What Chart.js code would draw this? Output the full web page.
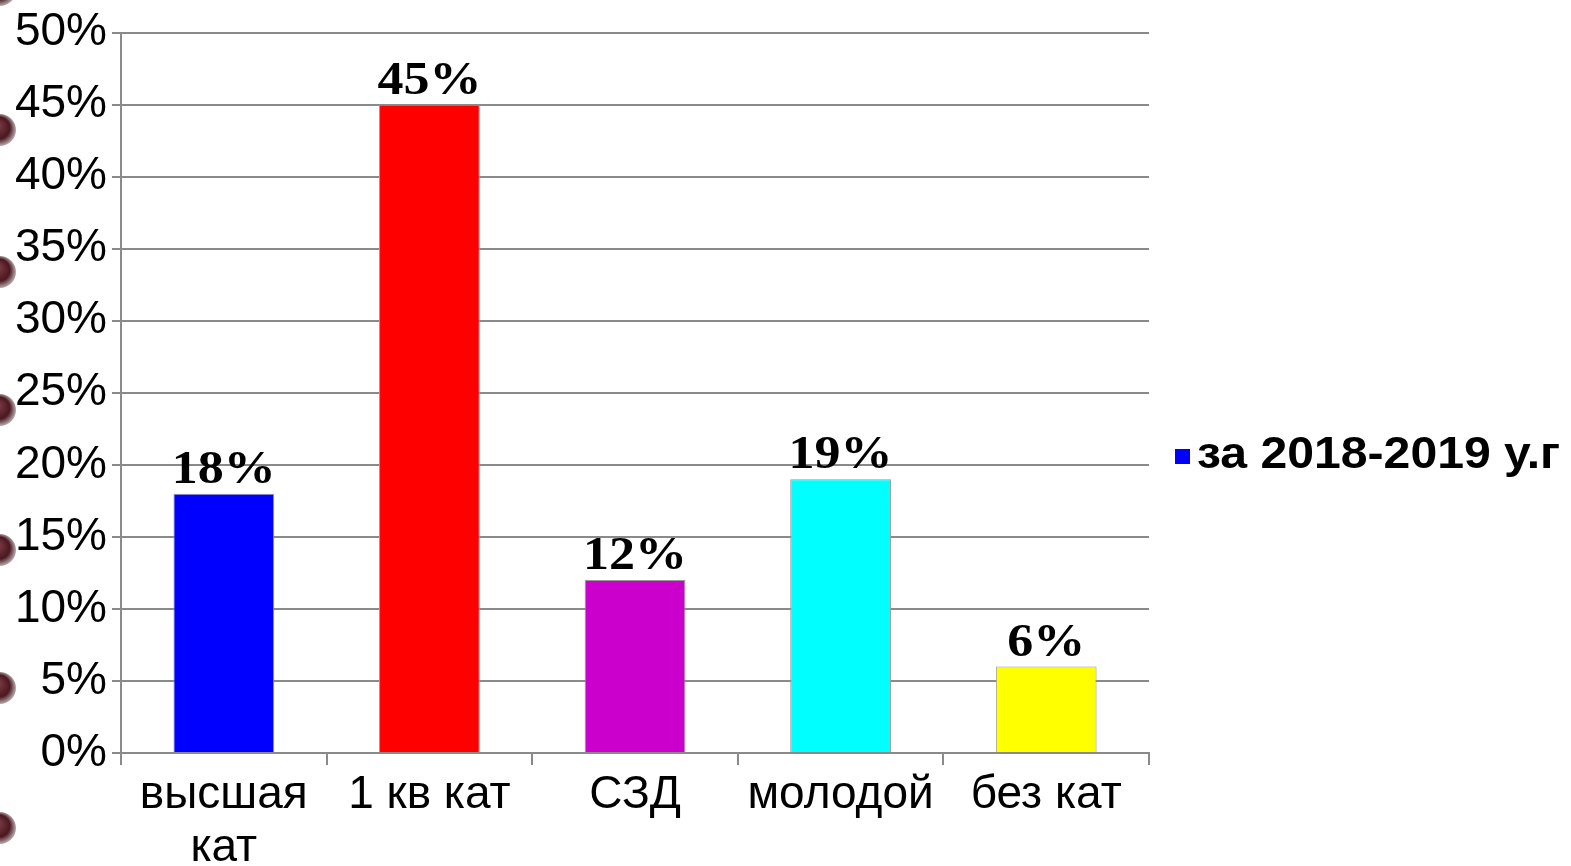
<!DOCTYPE html>
<html lang="ru">
<head>
<meta charset="utf-8">
<script src="https://cdn.jsdelivr.net/npm/chart.js@4/dist/chart.umd.min.js"></script>
<style>
  html, body { margin: 0; padding: 0; background: #fff; overflow: hidden; }
  #wrap { position: relative; width: 1571px; height: 866px; }
</style>
</head>
<body>
<div id="wrap"><canvas id="chart" width="1571" height="866"></canvas></div>
<script>
// Données du graphique
const categories = [['высшая', 'кат'], '1 кв кат', 'СЗД', 'молодой', 'без кат'];
const values = [18, 45, 12, 19, 6];
const barColors = ['#0000ff', '#ff0000', '#cc00cc', '#00ffff', '#ffff00'];
const seriesLabel = 'за 2018-2019 у.г';

// Décor : anneaux sombres sur le bord gauche
const ringsPlugin = {
    id: 'rings',
    afterDraw(chart) {
        const ctx = chart.ctx;
        const ys = [-10, 130, 272, 410, 550, 688, 828];
        ys.forEach(y => {
            const g = ctx.createRadialGradient(-3, y - 5, 2, 0, y, 17);
            g.addColorStop(0, '#7a3a44');
            g.addColorStop(0.6, '#4a1820');
            g.addColorStop(1, 'rgba(60,20,25,0.25)');
            ctx.save();
            ctx.fillStyle = g;
            ctx.beginPath();
            ctx.arc(0, y, 16, 0, Math.PI * 2);
            ctx.fill();
            ctx.restore();
        });
    }
};

// Étiquettes de valeurs au-dessus des barres (texte un peu étiré comme l'original)
const valueLabels = {
    id: 'valueLabels',
    afterDatasetsDraw(chart) {
        const ctx = chart.ctx;
        const meta = chart.getDatasetMeta(0);
        ctx.save();
        ctx.font = 'bold 46px "Liberation Serif", "Times New Roman", serif';
        ctx.fillStyle = '#000';
        ctx.textAlign = 'center';
        ctx.textBaseline = 'alphabetic';
        meta.data.forEach((bar, i) => {
            ctx.save();
            ctx.translate(bar.x, bar.y - 11);
            ctx.scale(1.13, 1);
            ctx.fillText(values[i] + '%', 0, 0);
            ctx.restore();
        });
        ctx.restore();
    }
};

// Légende dessinée à la main (coupée par le bord droit comme l'original)
const sideLegend = {
    id: 'sideLegend',
    afterDraw(chart) {
        const ctx = chart.ctx;
        ctx.save();
        ctx.fillStyle = barColors[0];
        ctx.fillRect(1175, 449, 15, 15);
        ctx.font = 'bold 45px "Liberation Sans", Arial, sans-serif';
        ctx.fillStyle = '#000';
        ctx.textBaseline = 'middle';
        ctx.translate(1197, 456);
        ctx.scale(1.07, 1);
        ctx.fillText(seriesLabel, 0, 0);
        ctx.restore();
    }
};

const ctx = document.getElementById('chart').getContext('2d');
new Chart(ctx, {
    type: 'bar',
    data: {
        labels: categories,
        datasets: [{
            label: seriesLabel,
            data: values,
            backgroundColor: barColors,
            borderColor: '#9a9a9a',
            borderWidth: 1,
            categoryPercentage: 1,
            barPercentage: 0.49
        }]
    },
    options: {
        responsive: false,
        animation: false,
        layout: { padding: { top: 32, right: 422, left: 0, bottom: 0 } },
        plugins: {
            legend: { display: false },
            tooltip: { enabled: false }
        },
        scales: {
            y: {
                min: 0,
                max: 50,
                ticks: {
                    stepSize: 5,
                    padding: 5,
                    color: '#000',
                    font: { family: '"Liberation Sans", Arial, sans-serif', size: 46 },
                    callback: v => v + '%'
                },
                grid: { color: '#8a8a8a', lineWidth: 2, tickLength: 9 },
                border: { color: '#8a8a8a', width: 2 },
                afterFit(scale) { scale.width = 121; }
            },
            x: {
                ticks: {
                    padding: 4,
                    color: '#000',
                    maxRotation: 0,
                    autoSkip: false,
                    font: { family: '"Liberation Sans", Arial, sans-serif', size: 46, lineHeight: 1.15 }
                },
                grid: { offset: true, drawOnChartArea: false, color: '#8a8a8a', lineWidth: 2, tickLength: 12 },
                border: { color: '#8a8a8a', width: 2 },
                afterFit(scale) { scale.height = 113; }
            }
        }
    },
    plugins: [valueLabels, sideLegend, ringsPlugin]
});
</script>
</body>
</html>
